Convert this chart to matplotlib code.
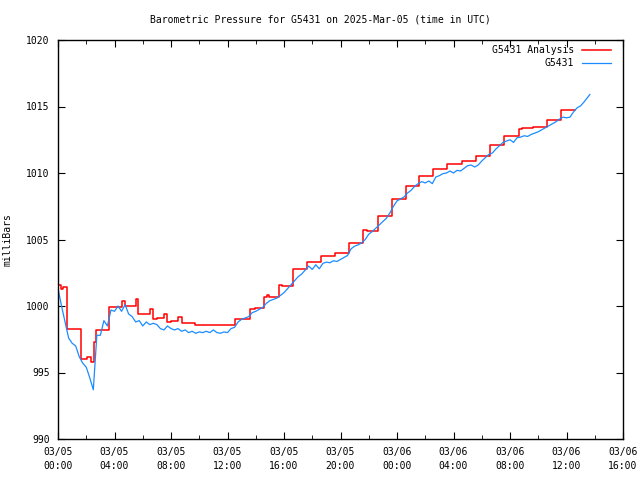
import numpy as np
import matplotlib
matplotlib.use("Agg")
import matplotlib.pyplot as plt

# Analysis (step) values: hours since 03/05 00:00 UTC, pressure in mb
analysis_hours = [0.0, 0.21, 0.38, 0.66, 1.66, 2.03, 2.34, 2.57, 2.69, 3.61,
                  4.51, 4.74, 5.52, 5.64, 6.51, 6.70, 6.99, 7.50, 7.70, 7.98,
                  8.47, 8.76, 9.70, 12.53, 13.59, 13.95, 14.58, 14.82, 14.94, 15.67,
                  15.86, 16.62, 17.61, 18.62, 19.61, 20.62, 21.61, 21.90, 22.63, 23.62,
                  24.62, 25.56, 26.53, 27.52, 28.58, 29.59, 30.58, 31.58, 32.64, 32.83,
                  33.61, 34.60, 35.59, 36.60]
analysis_mb = [1001.6, 1001.25, 1001.4, 998.25, 996.0, 996.2, 995.8, 997.3, 998.2, 999.95,
               1000.4, 1000.0, 1000.5, 999.4, 999.75, 999.0, 999.07, 999.43, 998.8, 998.9,
               999.2, 998.75, 998.6, 999.05, 999.8, 999.88, 1000.7, 1000.8, 1000.7, 1001.57,
               1001.5, 1002.75, 1003.3, 1003.75, 1004.0, 1004.75, 1005.75, 1005.67, 1006.8, 1008.05,
               1009.05, 1009.8, 1010.3, 1010.67, 1010.9, 1011.3, 1012.1, 1012.8, 1013.3, 1013.4,
               1013.45, 1014.0, 1014.75, 1014.75]

# Station observations
obs_hours = [i * 0.25 for i in range(151)] + [37.65]
obs_mb = [1001.3, 1000.0, 998.8, 997.6, 997.2, 997.0, 996.2, 995.7, 995.4, 994.6,
          993.7, 997.8, 997.8, 998.9, 998.5, 999.7, 999.6, 1000.0, 999.6, 1000.1,
          999.4, 999.2, 998.8, 998.9, 998.5, 998.8, 998.6, 998.7, 998.6, 998.3,
          998.2, 998.5, 998.3, 998.2, 998.3, 998.1, 998.2, 998.0, 998.1, 997.95,
          998.05, 998.0, 998.1, 998.0, 998.2, 998.0, 997.95, 998.05, 998.0, 998.3,
          998.4, 998.8, 999.0, 999.1, 999.2, 999.5, 999.6, 999.75, 999.9, 1000.2,
          1000.4, 1000.5, 1000.6, 1000.8, 1001.0, 1001.3, 1001.6, 1001.9, 1002.2, 1002.4,
          1002.7, 1003.0, 1002.75, 1003.1, 1002.8, 1003.2, 1003.3, 1003.25, 1003.4, 1003.35,
          1003.5, 1003.65, 1003.8, 1004.3, 1004.5, 1004.6, 1004.75, 1005.0, 1005.4, 1005.6,
          1005.85, 1006.1, 1006.35, 1006.6, 1007.0, 1007.5, 1007.9, 1008.05, 1008.2, 1008.5,
          1008.7, 1009.0, 1009.2, 1009.35, 1009.25, 1009.4, 1009.2, 1009.7, 1009.8, 1009.95,
          1010.0, 1010.15, 1010.0, 1010.2, 1010.15, 1010.35, 1010.55, 1010.6, 1010.45, 1010.6,
          1010.9, 1011.15, 1011.4, 1011.5, 1011.8, 1012.05, 1012.3, 1012.4, 1012.5, 1012.3,
          1012.65, 1012.7, 1012.8, 1012.75, 1012.9, 1013.0, 1013.1, 1013.25, 1013.4, 1013.55,
          1013.7, 1013.85, 1014.05, 1014.2, 1014.15, 1014.2, 1014.6, 1014.9, 1015.05, 1015.35,
          1015.7, 1015.9]

tick_hours = list(range(0, 41, 4))
tick_labels = ["03/05\n00:00", "03/05\n04:00", "03/05\n08:00", "03/05\n12:00",
               "03/05\n16:00", "03/05\n20:00", "03/06\n00:00", "03/06\n04:00",
               "03/06\n08:00", "03/06\n12:00", "03/06\n16:00"]

plt.rcParams['font.family'] = 'DejaVu Sans Mono'
plt.rcParams['font.size'] = 7

fig = plt.figure(figsize=(6.4, 4.8), dpi=100)
ax = fig.add_axes([58 / 640, 1 - 439 / 480, 565 / 640, 399 / 480])

ax.step(analysis_hours, analysis_mb, where='post', color='#ff0000', lw=1.1,
        label='G5431 Analysis')
ax.plot(obs_hours, obs_mb, color='#1a8cff', lw=0.9, label='G5431')

ax.set_xlim(0, 40)
ax.set_ylim(990, 1020)
ax.set_xticks(tick_hours)
ax.set_xticklabels(tick_labels, linespacing=1.5)
ax.set_xticks(range(0, 41, 2), minor=True)
ax.set_yticks(range(990, 1021, 5))
ax.tick_params(which='both', direction='in', top=True, right=True, pad=6)
ax.tick_params(which='major', length=5)
ax.tick_params(which='minor', length=3)
for s in ax.spines.values():
    s.set_linewidth(1.0)

ax.set_ylabel('milliBars', labelpad=10)
fig.suptitle('Barometric Pressure for G5431 on 2025-Mar-05 (time in UTC)',
             y=1 - 19 / 480, va='center', fontsize=7)

ax.legend(loc='upper right', frameon=False, markerfirst=False,
          handlelength=3.0, borderaxespad=0, borderpad=0, labelspacing=0.35,
          bbox_to_anchor=(611 / 640, 1 - 45 / 480), bbox_transform=fig.transFigure)

fig.savefig('out.png', dpi=100)
